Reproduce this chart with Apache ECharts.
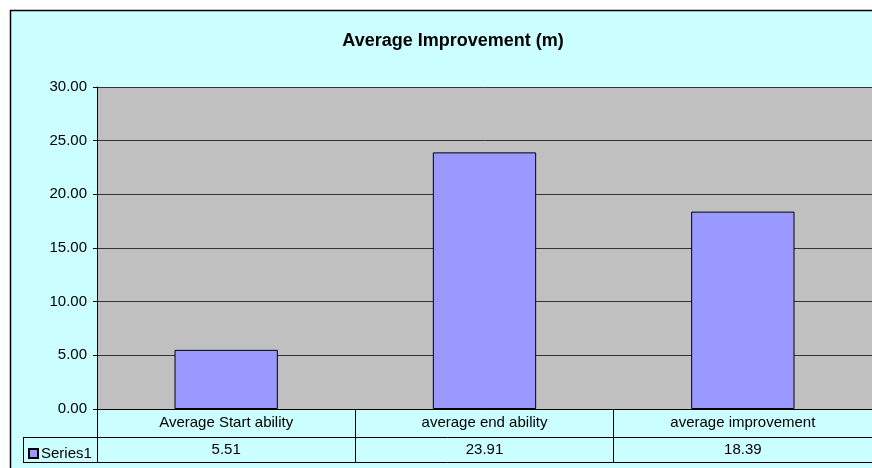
<!DOCTYPE html>
<html>
<head>
<meta charset="utf-8">
<script src="https://cdn.jsdelivr.net/npm/echarts@6/dist/echarts.min.js"></script>
<style>
  html, body { margin: 0; padding: 0; background: #fff; }
  #main { width: 872px; height: 468px; }
</style>
</head>
<body>
<div id="main"></div>
<script>
// 数据
let categories = ['Average Start ability', 'average end ability', 'average improvement']
let values = [5.51, 23.91, 18.39]
let seriesName = 'Series1'
let titleText = 'Average Improvement (m)'

let font = 'Liberation Sans, Arial, sans-serif'

let chart = echarts.init(document.getElementById('main'))
let option = {
  backgroundColor: '#fff',
  animation: false,
  textStyle: { fontFamily: font },
  title: {
    text: titleText,
    left: 448,
    top: 27,
    textAlign: 'center',
    textStyle: { fontFamily: font, fontSize: 18, fontWeight: 'bold', color: '#000' }
  },
  legend: {
    data: [seriesName],
    left: 23,
    top: 441,
    icon: 'rect',
    itemWidth: 9,
    itemHeight: 9,
    itemGap: 4,
    textStyle: { fontFamily: font, fontSize: 15, color: '#000', padding: [0, 0, 0, -2] }
  },
  grid: {
    left: 97, right: 0, top: 87, bottom: 59,
    show: true,
    backgroundColor: '#c0c0c0',
    borderWidth: 0
  },
  xAxis: [
    {
      type: 'category',
      data: categories,
      position: 'bottom',
      axisLine: { lineStyle: { color: '#000', width: 1 } },
      axisTick: { show: true, length: 53, lineStyle: { color: '#000' } },
      axisLabel: { margin: 6, fontSize: 15, color: '#000', fontFamily: font }
    },
    {
      type: 'category',
      data: values.map(v => v.toFixed(2)),
      position: 'bottom',
      offset: 28,
      axisLine: { show: false },
      axisTick: { show: false },
      axisLabel: { margin: 5, fontSize: 15, color: '#000', fontFamily: font }
    }
  ],
  yAxis: {
    type: 'value',
    min: 0,
    max: 30,
    interval: 5,
    axisLine: { show: true, lineStyle: { color: '#000' } },
    axisTick: { show: true, length: 4, lineStyle: { color: '#000' } },
    axisLabel: { margin: 10, fontSize: 15, color: '#000', fontFamily: font, formatter: v => v.toFixed(2) },
    splitLine: { show: true, lineStyle: { color: '#333', width: 1 } }
  },
  series: [{
    type: 'bar',
    name: seriesName,
    xAxisIndex: 0,
    data: values,
    barWidth: '40%',
    itemStyle: { color: '#9999ff', borderColor: '#000', borderWidth: 1 }
  }],
  graphic: [
    // 图表区背景和边框
    { type: 'rect', z: -100, shape: { x: 10.5, y: 10.5, width: 900, height: 500 },
      style: { fill: '#ccffff', stroke: '#000', lineWidth: 1.5 } },
    // 数据表格线
    { type: 'line', shape: { x1: 23, y1: 437.5, x2: 872, y2: 437.5 }, style: { stroke: '#000', lineWidth: 1 } },
    { type: 'line', shape: { x1: 23, y1: 462.5, x2: 872, y2: 462.5 }, style: { stroke: '#000', lineWidth: 1 } },
    { type: 'line', shape: { x1: 23.5, y1: 437, x2: 23.5, y2: 463 }, style: { stroke: '#000', lineWidth: 1 } },
    { type: 'line', shape: { x1: 97.5, y1: 409, x2: 97.5, y2: 463 }, style: { stroke: '#000', lineWidth: 1 } }
  ]
}
chart.setOption(option)
</script>
</body>
</html>
